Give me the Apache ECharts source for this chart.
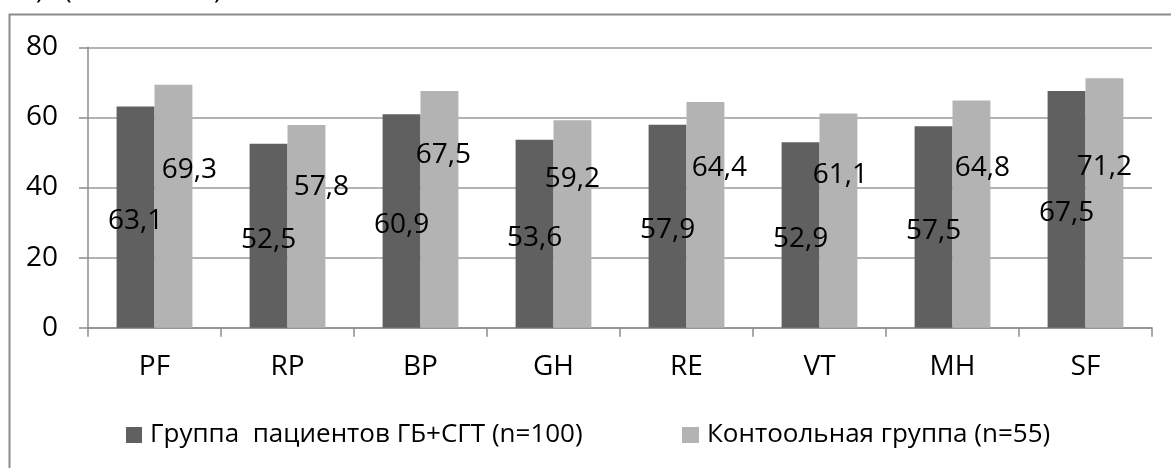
<!DOCTYPE html>
<html>
<head>
<meta charset="utf-8">
<script src="https://cdn.jsdelivr.net/npm/echarts@6/dist/echarts.min.js"></script>
<style>
html,body{margin:0;padding:0;background:#fff;}
#chart{width:1171px;height:468px;}
</style>
</head>
<body>
<div id="chart"></div>
<script>
const categories = ['PF', 'RP', 'BP', 'GH', 'RE', 'VT', 'MH', 'SF'];
const patientValues = [63.1, 52.5, 60.9, 53.6, 57.9, 52.9, 57.5, 67.5];
const controlValues = [69.3, 57.8, 67.5, 59.2, 64.4, 61.1, 64.8, 71.2];
const seriesNames = ['Группа  пациентов ГБ+СГТ (n=100)', 'Контоольная группа (n=55)'];
const yTicks = { min: 0, max: 80, interval: 20 };
// label nudges (style only, in pixels) for the light series labels
const controlLabelNudge = [[16,-36],[15,-39],[4,-54],[0,-45],[14,-47],[2,-46],[11,-46],[0,-36]];

const FONT = 'Open Sans';
const FS = 28;
const LFS = 26;
const fmt = p => String(p.value).replace('.', ',');

const chart = echarts.init(document.getElementById('chart'), null, {renderer: 'canvas'});
chart.setOption({
  animation: false,
  backgroundColor: '#ffffff',
  textStyle: { fontFamily: FONT },
  grid: { left: 88, right: 19, top: 47.3, bottom: 140.3, containLabel: false },
  legend: [
    { data: [seriesNames[0]], left: 121, top: 417, itemWidth: 16, itemHeight: 16, icon: 'rect',
      textStyle: { fontFamily: FONT, fontSize: LFS, color: '#000', padding: [0,0,0,3] } },
    { data: [seriesNames[1]], left: 677, top: 417, itemWidth: 17, itemHeight: 16, icon: 'rect',
      textStyle: { fontFamily: FONT, fontSize: LFS, color: '#000', padding: [0,0,0,3] } }
  ],
  xAxis: {
    type: 'category',
    data: categories,
    axisLine: { lineStyle: { color: '#8c8c8c', width: 1.5 } },
    axisTick: { show: true, length: 9, lineStyle: { color: '#8c8c8c', width: 1.5 } },
    axisLabel: { fontFamily: FONT, fontSize: FS, color: '#000', margin: 25 }
  },
  yAxis: {
    type: 'value',
    min: yTicks.min, max: yTicks.max, interval: yTicks.interval,
    axisLine: { show: true, lineStyle: { color: '#8c8c8c', width: 1.5 } },
    axisTick: { show: true, length: 9, lineStyle: { color: '#8c8c8c', width: 1.5 } },
    splitLine: { lineStyle: { color: '#9a9a9a', width: 1.5 } },
    axisLabel: { fontFamily: FONT, fontSize: FS, color: '#000', margin: 30 }
  },
  series: [
    {
      name: seriesNames[0], type: 'bar', data: patientValues,
      barGap: '0%', barCategoryGap: '43%',
      itemStyle: { color: '#606060' },
      label: { show: true, position: 'inside', offset: [0, 4], formatter: fmt,
               fontFamily: FONT, fontSize: FS, color: '#000' }
    },
    {
      name: seriesNames[1], type: 'bar',
      data: controlValues.map((v, i) => ({ value: v, label: { offset: controlLabelNudge[i] } })),
      barGap: '0%', barCategoryGap: '43%',
      itemStyle: { color: '#b3b3b3' },
      label: { show: true, position: 'inside', formatter: fmt,
               fontFamily: FONT, fontSize: FS, color: '#000' }
    }
  ],
  graphic: [
    { type: 'rect', shape: { x: 9.5, y: 14.5, width: 1300, height: 600 }, silent: true, z: -1,
      style: { fill: 'none', stroke: '#8c8c8c', lineWidth: 2 } },
    { type: 'text', left: 36, top: -22, silent: true,
      style: { text: ')', font: '26px "Open Sans"', fill: '#000' } },
    { type: 'text', left: 64, top: -22, silent: true,
      style: { text: '(', font: '26px "Open Sans"', fill: '#000' } },
    { type: 'text', left: 214, top: -22, silent: true,
      style: { text: ')', font: '26px "Open Sans"', fill: '#000' } }
  ]
});
</script>
</body>
</html>
